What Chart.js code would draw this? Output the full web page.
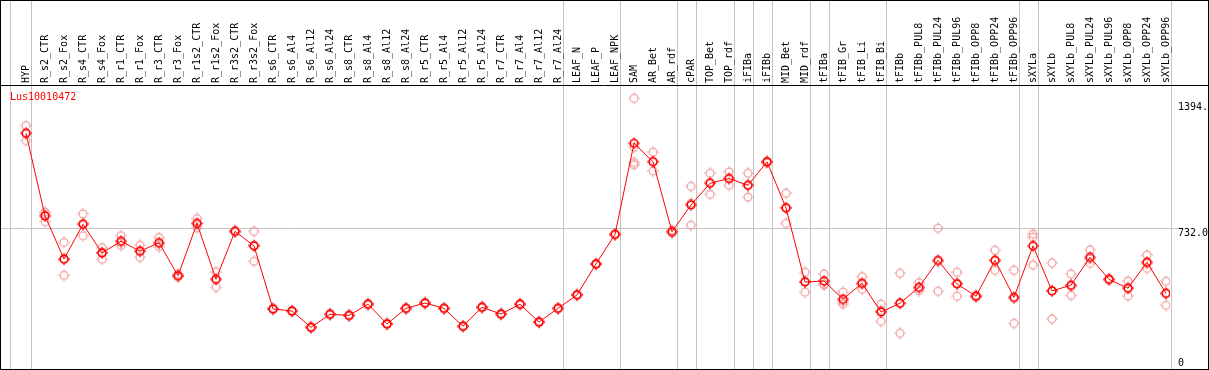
<!DOCTYPE html>
<html>
<head>
<meta charset="utf-8">
<title>Lus10010472</title>
<script src="https://cdn.jsdelivr.net/npm/chart.js@4.4.1/dist/chart.umd.min.js"></script>
<style>
html, body { margin: 0; padding: 0; background: #fff; }
#wrap { width: 1209px; height: 370px; }
</style>
</head>
<body>
<div id="wrap"><canvas id="chart" width="1209" height="370"></canvas></div>
<script>
const geneName = 'Lus10010472';

const categories = [
    'HYP', 'R_s2_CTR', 'R_s2_Fox', 'R_s4_CTR', 'R_s4_Fox', 'R_r1_CTR', 'R_r1_Fox', 'R_r3_CTR', 'R_r3_Fox',
    'R_r1s2_CTR', 'R_r1s2_Fox', 'R_r3s2_CTR', 'R_r3s2_Fox', 'R_s6_CTR', 'R_s6_Al4', 'R_s6_Al12', 'R_s6_Al24',
    'R_s8_CTR', 'R_s8_Al4', 'R_s8_Al12', 'R_s8_Al24', 'R_r5_CTR', 'R_r5_Al4', 'R_r5_Al12', 'R_r5_Al24',
    'R_r7_CTR', 'R_r7_Al4', 'R_r7_Al12', 'R_r7_Al24', 'LEAF_N', 'LEAF_P', 'LEAF_NPK', 'SAM', 'AR_Bet', 'AR_rdf',
    'cPAR', 'TOP_Bet', 'TOP_rdf', 'iFIBa', 'iFIBb', 'MID_Bet', 'MID_rdf', 'tFIBa', 'tFIB_Gr', 'tFIB_Li', 'tFIB_Bi',
    'tFIBb', 'tFIBb_PUL8', 'tFIBb_PUL24', 'tFIBb_PUL96', 'tFIBb_OPP8', 'tFIBb_OPP24', 'tFIBb_OPP96',
    'sXYLa', 'sXYLb', 'sXYLb_PUL8', 'sXYLb_PUL24', 'sXYLb_PUL96', 'sXYLb_OPP8', 'sXYLb_OPP24', 'sXYLb_OPP96'
];

const meanValues = [
    1232, 796, 569, 752, 601, 663, 610, 655, 481,
    757, 462, 715, 638, 306, 295, 209, 278,
    272, 331, 227, 309, 337, 309, 215, 315,
    279, 331, 237, 309, 380, 543, 699, 1179, 1082, 713,
    854, 968, 993, 958, 1081, 838, 448, 453, 357, 441, 290,
    336, 420, 562, 438, 373, 562, 367,
    638, 401, 431, 578, 462, 415, 552, 388
];

const replicateValues = [
    [1272, 1232, 1193], [817, 805, 766], [657, 567, 483], [807, 757, 692], [629, 606, 568],
    [692, 656, 641], [641, 611, 578], [682, 649, 634], [490, 477, 476],
    [782, 755, 734], [501, 465, 420], [720, 713, 712], [715, 642, 557],
    [309, 306, 303], [298, 295, 292], [212, 209, 206], [281, 278, 275],
    [275, 272, 269], [334, 331, 328], [230, 227, 224], [312, 309, 306],
    [340, 337, 334], [312, 309, 306], [218, 215, 212], [318, 315, 312],
    [282, 279, 276], [334, 331, 328], [240, 237, 234], [312, 309, 306],
    [383, 380, 377], [546, 543, 540], [702, 699, 696],
    [1416, 1158, 1078, 1066], [1132, 1081, 1033], [720, 713, 706],
    [952, 863, 747], [1021, 973, 910], [1028, 993, 958], [1021, 958, 895], [1085, 1081, 1077],
    [916, 841, 757], [499, 451, 394], [490, 436, 433], [394, 345, 332], [476, 437, 410], [331, 298, 241],
    [494, 336, 178], [444, 414, 402], [731, 556, 399], [499, 442, 373], [378, 373, 368], [615, 561, 510], [510, 361, 230],
    [701, 684, 538], [548, 402, 253], [490, 425, 378], [617, 570, 547], [466, 462, 458],
    [453, 418, 374], [590, 546, 520], [452, 387, 325]
];

// last category of each group, a grey separator follows it
const groupEnds = [0, 28, 31, 34, 35, 37, 38, 39, 41, 42, 45, 52, 53, 60];

const yTickValues = [0, 732, 1394];
const yTickLabels = ['0', '732.0', '1394.'];

const monoFont = '10px "DejaVu Sans Mono", "Liberation Mono", monospace';

function makeMarker(color, width) {
    const c = document.createElement('canvas');
    c.width = 14;
    c.height = 14;
    const g = c.getContext('2d');
    g.strokeStyle = color;
    g.fillStyle = color;
    g.lineWidth = width;
    g.beginPath();
    g.arc(7, 7, 3.9, 0, Math.PI * 2);
    g.stroke();
    // little nubs on the four sides
    g.fillRect(6.5, 1, 1, 1.5);
    g.fillRect(6.5, 11.5, 1, 1.5);
    g.fillRect(1, 6.5, 1.5, 1);
    g.fillRect(11.5, 6.5, 1.5, 1);
    return c;
}

const meanMarker = makeMarker('#ff0000', 1.7);
const repMarker = makeMarker('#f09898', 1.1);

const framePlugin = {
    id: 'frame',
    beforeDraw(chart) {
        const { ctx, chartArea, scales: { x, y } } = chart;
        ctx.save();
        ctx.strokeStyle = '#c4c4c4';
        ctx.lineWidth = 1;
        ctx.beginPath();
        // left edge line of first group
        const seps = [-0.84].concat(groupEnds.map(i => i + 0.24));
        seps.forEach(v => {
            const px = Math.round(x.getPixelForValue(v)) + 0.5;
            ctx.moveTo(px, 0);
            ctx.lineTo(px, chart.height);
        });
        const gy = Math.round(y.getPixelForValue(732)) + 0.5;
        ctx.moveTo(0, gy);
        ctx.lineTo(chartArea.right + 8, gy);
        ctx.stroke();
        ctx.restore();
    },
    afterDraw(chart) {
        const { ctx, chartArea, scales: { y } } = chart;
        ctx.save();
        ctx.strokeStyle = '#000';
        ctx.lineWidth = 1;
        ctx.strokeRect(0.5, 0.5, chart.width - 1, chart.height - 1);
        ctx.beginPath();
        ctx.moveTo(0, chartArea.top + 0.5);
        ctx.lineTo(chart.width, chartArea.top + 0.5);
        ctx.stroke();

        ctx.font = monoFont;
        ctx.textAlign = 'left';
        ctx.textBaseline = 'alphabetic';
        ctx.fillStyle = '#ff0000';
        ctx.fillText(geneName, 10, chartArea.top + 15);

        ctx.fillStyle = '#000';
        yTickValues.forEach((v, i) => {
            const py = y.getPixelForValue(v);
            const base = v === 0 ? py - 1 : py + 8;
            ctx.fillText(yTickLabels[i], chartArea.right + 8, base);
        });
        ctx.restore();
    }
};

const ctx = document.getElementById('chart').getContext('2d');

new Chart(ctx, {
    type: 'line',
    data: {
        datasets: [
            {
                label: geneName,
                data: meanValues.map((v, i) => ({ x: i, y: v })),
                borderColor: '#ff0000',
                borderWidth: 1,
                tension: 0,
                pointStyle: meanMarker,
                pointRadius: 7,
                order: 0
            },
            {
                label: 'replicates',
                data: replicateValues.flatMap((reps, i) => reps.map(v => ({ x: i, y: v }))),
                showLine: false,
                pointStyle: repMarker,
                pointRadius: 7,
                order: 1
            }
        ]
    },
    options: {
        responsive: false,
        animation: false,
        devicePixelRatio: 1,
        layout: { autoPadding: false, padding: { left: 1, right: 39, top: 0, bottom: 3 } },
        plugins: {
            legend: { display: false },
            tooltip: { enabled: false }
        },
        scales: {
            x: {
                type: 'linear',
                position: 'top',
                min: -1.3158,
                max: 60.2105,
                grid: { display: false, drawTicks: false },
                border: { display: false },
                afterBuildTicks: scale => {
                    scale.ticks = categories.map((c, i) => ({ value: i }));
                },
                afterFit: scale => {
                    scale.height = 85;
                    scale.paddingLeft = 0;
                    scale.paddingRight = 0;
                },
                ticks: {
                    autoSkip: false,
                    minRotation: 90,
                    maxRotation: 90,
                    padding: 2,
                    labelOffset: 12,
                    color: '#000',
                    font: { family: '"DejaVu Sans Mono", "Liberation Mono", monospace', size: 10 },
                    callback: value => categories[value]
                }
            },
            y: {
                display: false,
                min: 0,
                max: 1486
            }
        }
    },
    plugins: [framePlugin]
});
</script>
</body>
</html>
